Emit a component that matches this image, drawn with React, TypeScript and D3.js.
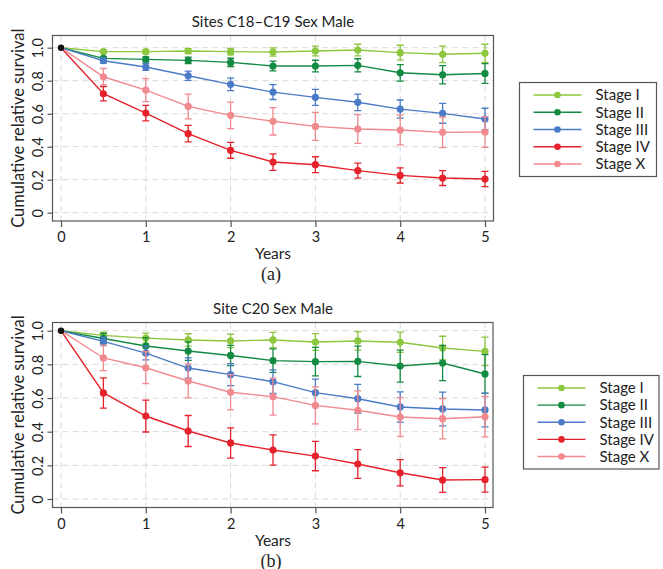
import React, { useEffect, useRef } from "react";
import * as d3 from "d3";

const years = [0, 0.5, 1, 1.5, 2, 2.5, 3, 3.5, 4, 4.5, 5];
const stages = ["Stage I", "Stage II", "Stage III", "Stage IV", "Stage X"];
const stageColors = ["#8dc63f", "#138a42", "#4a7bc6", "#e5222b", "#f08a8e"];
const xTicks = [0, 1, 2, 3, 4, 5];
const yTicks = [0, 0.2, 0.4, 0.6, 0.8, 1.0];
const yTickLabels = ["0", "0.2", "0.4", "0.6", "0.8", "1.0"];

// (a) Sites C18-C19
const aStageI = [1, 0.976, 0.976, 0.98, 0.976, 0.974, 0.98, 0.986, 0.97, 0.96, 0.966];
const aStageIErr = [0, 0.01, 0.012, 0.015, 0.02, 0.025, 0.03, 0.035, 0.045, 0.05, 0.055];
const aStageII = [1, 0.935, 0.929, 0.923, 0.911, 0.889, 0.889, 0.893, 0.848, 0.836, 0.844];
const aStageIIErr = [0, 0.01, 0.015, 0.02, 0.025, 0.03, 0.035, 0.04, 0.05, 0.055, 0.06];
const aStageIII = [1, 0.921, 0.883, 0.83, 0.778, 0.731, 0.699, 0.669, 0.628, 0.602, 0.568];
const aStageIIIErr = [0, 0.015, 0.02, 0.028, 0.038, 0.045, 0.048, 0.05, 0.055, 0.06, 0.065];
const aStageIV = [1, 0.721, 0.604, 0.479, 0.378, 0.307, 0.291, 0.255, 0.226, 0.21, 0.204];
const aStageIVErr = [0, 0.043, 0.047, 0.05, 0.048, 0.05, 0.048, 0.046, 0.046, 0.045, 0.046];
const aStageX = [1, 0.824, 0.743, 0.644, 0.59, 0.554, 0.523, 0.507, 0.501, 0.487, 0.489];
const aStageXErr = [0, 0.05, 0.07, 0.075, 0.08, 0.083, 0.085, 0.087, 0.09, 0.093, 0.093];

// (b) Site C20
const bStageI = [1, 0.972, 0.956, 0.945, 0.939, 0.945, 0.933, 0.939, 0.931, 0.897, 0.877];
const bStageIErr = [0, 0.02, 0.03, 0.037, 0.04, 0.045, 0.05, 0.055, 0.06, 0.07, 0.085];
const bStageII = [1, 0.954, 0.909, 0.879, 0.853, 0.822, 0.816, 0.818, 0.79, 0.808, 0.743];
const bStageIIErr = [0, 0.03, 0.05, 0.055, 0.06, 0.07, 0.085, 0.09, 0.095, 0.105, 0.115];
const bStageIII = [1, 0.937, 0.867, 0.778, 0.739, 0.697, 0.632, 0.596, 0.547, 0.535, 0.529];
const bStageIIIErr = [0, 0.025, 0.04, 0.06, 0.065, 0.07, 0.08, 0.085, 0.09, 0.1, 0.1];
const bStageIV = [1, 0.63, 0.493, 0.404, 0.333, 0.291, 0.255, 0.208, 0.156, 0.113, 0.115];
const bStageIVErr = [0, 0.09, 0.095, 0.092, 0.09, 0.09, 0.087, 0.085, 0.078, 0.074, 0.074];
const bStageX = [1, 0.838, 0.78, 0.701, 0.634, 0.608, 0.556, 0.527, 0.487, 0.477, 0.489];
const bStageXErr = [0, 0.075, 0.095, 0.1, 0.105, 0.11, 0.11, 0.115, 0.115, 0.12, 0.12];

const FONT = "Lato, 'Noto Sans', sans-serif";

function drawPanel(svg, cfg) {
    const { title, letter, series, errors, box, yRange, legend } = cfg;
    const x = d3.scaleLinear().domain([0, 5]).range([61, 485]);
    const y = d3.scaleLinear().domain([0, 1]).range(yRange);

    const g = svg.append("g");

    // grid
    g.selectAll(".gx").data(xTicks).enter().append("line")
        .attr("x1", d => x(d)).attr("x2", d => x(d))
        .attr("y1", box.top).attr("y2", box.bottom)
        .attr("stroke", "#d9d9d9").attr("stroke-dasharray", "6,4");
    g.selectAll(".gy").data(yTicks).enter().append("line")
        .attr("x1", box.left).attr("x2", box.right)
        .attr("y1", d => y(d)).attr("y2", d => y(d))
        .attr("stroke", "#d9d9d9").attr("stroke-dasharray", "6,4");

    // box
    g.append("rect")
        .attr("x", box.left).attr("y", box.top)
        .attr("width", box.right - box.left).attr("height", box.bottom - box.top)
        .attr("fill", "none").attr("stroke", "#555").attr("stroke-width", 1.2);

    // axes
    const xAxis = g.append("g")
        .attr("transform", `translate(0, ${box.bottom})`)
        .call(d3.axisBottom(x).tickValues(xTicks).tickSize(6).tickSizeOuter(0).tickFormat(d3.format("d")));
    xAxis.select(".domain").remove();
    xAxis.selectAll("line").attr("stroke", "#555").attr("stroke-width", 1.2);
    xAxis.selectAll("text")
        .attr("font-family", FONT).attr("font-size", 14.5).attr("fill", "#222")
        .attr("dy", null).attr("y", 21);

    const yAxis = g.append("g")
        .attr("transform", `translate(${box.left}, 0)`)
        .call(d3.axisLeft(y).tickValues(yTicks).tickSize(5).tickSizeOuter(0)
            .tickFormat((d, i) => yTickLabels[i]));
    yAxis.select(".domain").remove();
    yAxis.selectAll("line").attr("stroke", "#555").attr("stroke-width", 1.2);
    yAxis.selectAll("text")
        .attr("font-family", FONT).attr("font-size", 14.5).attr("fill", "#222")
        .attr("x", null).attr("dy", null)
        .attr("text-anchor", "middle")
        .attr("transform", "translate(-10, 0) rotate(-90)");

    // titles
    g.append("text")
        .attr("x", 273).attr("y", box.top - 9)
        .attr("text-anchor", "middle")
        .attr("font-family", FONT).attr("font-size", 15).attr("fill", "#222")
        .text(title);
    g.append("text")
        .attr("transform", `translate(24, ${(box.top + box.bottom) / 2}) rotate(-90)`)
        .attr("text-anchor", "middle")
        .attr("font-family", FONT).attr("font-size", 16.5).attr("fill", "#222")
        .text("Cumulative relative survival");
    g.append("text")
        .attr("x", 273).attr("y", box.bottom + 38)
        .attr("text-anchor", "middle")
        .attr("font-family", FONT).attr("font-size", 15.5).attr("fill", "#222")
        .text("Years");
    g.append("text")
        .attr("x", 271).attr("y", box.bottom + 59)
        .attr("text-anchor", "middle")
        .attr("font-family", "'Liberation Serif', 'DejaVu Serif', serif").attr("font-size", 18).attr("fill", "#222")
        .text(`(${letter})`);

    // series
    const line = d3.line().x(d => x(d[0])).y(d => y(d[1]));
    series.forEach((vals, si) => {
        const color = stageColors[si];
        const pts = years.map((t, i) => [t, vals[i], errors[si][i]]);
        const sg = g.append("g");
        sg.append("path")
            .datum(pts)
            .attr("d", line)
            .attr("fill", "none").attr("stroke", color).attr("stroke-width", 1.4);
        const eb = pts.filter(p => p[2] > 0);
        sg.selectAll(".eb").data(eb).enter().append("path")
            .attr("d", p => {
                const cx = x(p[0]), y1 = y(p[1] - p[2]), y2 = y(p[1] + p[2]);
                return `M${cx - 3.5},${y1}H${cx + 3.5}M${cx},${y1}V${y2}M${cx - 3.5},${y2}H${cx + 3.5}`;
            })
            .attr("fill", "none").attr("stroke", color).attr("stroke-width", 1.3);
        sg.selectAll(".pt").data(pts.slice(1)).enter().append("circle")
            .attr("cx", p => x(p[0])).attr("cy", p => y(p[1]))
            .attr("r", 3.6).attr("fill", color);
    });
    g.append("circle")
        .attr("cx", x(years[0])).attr("cy", y(series[0][0]))
        .attr("r", 3.2).attr("fill", "#111");

    // legend
    const lg = svg.append("g");
    lg.append("rect")
        .attr("x", legend.left).attr("y", legend.top)
        .attr("width", legend.right - legend.left).attr("height", legend.bottom - legend.top)
        .attr("fill", "#fff").attr("stroke", "#555").attr("stroke-width", 1.2);
    const ly = d3.scalePoint().domain(stages).range([legend.top + 12.5, legend.bottom - 12.5]);
    stages.forEach((s, i) => {
        const yy = ly(s);
        lg.append("line")
            .attr("x1", legend.left + 14).attr("x2", legend.left + 62)
            .attr("y1", yy).attr("y2", yy)
            .attr("stroke", stageColors[i]).attr("stroke-width", 1.4);
        lg.append("circle")
            .attr("cx", legend.left + 38).attr("cy", yy).attr("r", 3.3)
            .attr("fill", stageColors[i]);
        lg.append("text")
            .attr("x", legend.left + 76).attr("y", yy).attr("dy", "0.35em")
            .attr("font-family", FONT).attr("font-size", 15).attr("fill", "#222")
            .text(s);
    });
}

const App = () => {
    const svgRef = useRef(null);

    useEffect(() => {
        const svg = d3.select(svgRef.current);
        svg.selectAll("*").remove();

        drawPanel(svg, {
            title: "Sites C18\u2013C19 Sex Male",
            letter: "a",
            series: [aStageI, aStageII, aStageIII, aStageIV, aStageX],
            errors: [aStageIErr, aStageIIErr, aStageIIIErr, aStageIVErr, aStageXErr],
            box: { left: 52.5, right: 493.5, top: 35.5, bottom: 221 },
            yRange: [212.7, 47.7],
            legend: { left: 519.5, right: 656.5, top: 82.5, bottom: 176.5 },
        });

        drawPanel(svg, {
            title: "Site C20 Sex Male",
            letter: "b",
            series: [bStageI, bStageII, bStageIII, bStageIV, bStageX],
            errors: [bStageIErr, bStageIIErr, bStageIIIErr, bStageIVErr, bStageXErr],
            box: { left: 52.5, right: 493, top: 322.5, bottom: 507.5 },
            yRange: [499, 330.7],
            legend: { left: 523.5, right: 659, top: 375.5, bottom: 469 },
        });
    }, []);

    return (
        <svg ref={svgRef} width={663} height={569}
            style={{ position: "absolute", left: 0, top: 0, background: "#fff" }} />
    );
};

export default App;
